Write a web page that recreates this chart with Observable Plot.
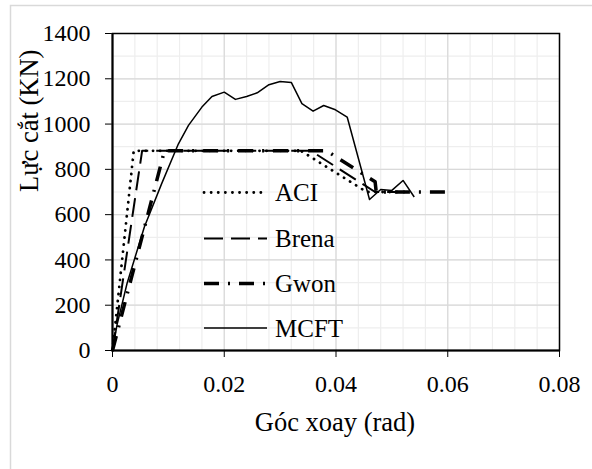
<!DOCTYPE html>
<html>
<head>
<meta charset="utf-8">
<script src="https://cdn.jsdelivr.net/npm/d3@7"></script>
<script src="https://cdn.jsdelivr.net/npm/@observablehq/plot@0.6"></script>
<style>
  html, body { margin: 0; padding: 0; background: white; }
  #chart { width: 592px; height: 469px; }
  #chart svg, #chart svg text { font-family: "Liberation Serif", "Times New Roman", serif !important; }
</style>
</head>
<body>
<div id="chart"></div>
<script>
// ---- data ----
const seriesNames = ["ACI", "Brena", "Gwon", "MCFT"];

const aciX = [0, 0.0038, 0.0337, 0.0455, 0.053];
const aciY = [0, 882, 882, 700, 700];

const brenaX = [0, 0.0053, 0.0355, 0.0470, 0.054];
const brenaY = [0, 882, 882, 700, 700];

const gwonX = [0, 0.0093, 0.0383, 0.0470, 0.0472, 0.0595];
const gwonY = [0, 882, 882, 745, 700, 700];

const mcftX = [0, 0.0008, 0.0026, 0.0047, 0.0057, 0.0088, 0.0118, 0.0136, 0.0160, 0.0178,
               0.0200, 0.0220, 0.0240, 0.0259, 0.0280, 0.0300, 0.0320, 0.0339, 0.0359, 0.0378,
               0.0399, 0.0420, 0.0460, 0.0480, 0.0500, 0.0520, 0.0540];
const mcftY = [0, 112, 296, 465, 545, 737, 913, 994, 1075, 1122,
               1141, 1109, 1122, 1138, 1174, 1188, 1184, 1090, 1057, 1082,
               1063, 1031, 667, 711, 707, 751, 678];

const xTicks = [0, 0.02, 0.04, 0.06, 0.08];
const xTickLabels = ["0", "0.02", "0.04", "0.06", "0.08"];
const yTicks = [0, 200, 400, 600, 800, 1000, 1200, 1400];
const yTickLabels = ["0", "200", "400", "600", "800", "1000", "1200", "1400"];
const xMinor = d3.range(0, 0.0801, 0.004);
const yMinor = d3.range(0, 1401, 100);

const xTitle = "Góc xoay (rad)";
const yTitle = "Lực cắt (KN)";

// ---- styles ----
const styles = {
  ACI:   {strokeWidth: 2.8, strokeDasharray: "0.1 7", strokeLinecap: "round"},
  Brena: {strokeWidth: 2,   strokeDasharray: "19 8",  strokeLinecap: "butt"},
  Gwon:  {strokeWidth: 3.5, strokeDasharray: "15 9 2 9", strokeLinecap: "butt"},
  MCFT:  {strokeWidth: 1.5, strokeDasharray: null, strokeLinecap: "butt"}
};

const zip = (xs, ys) => xs.map((x, i) => ({x, y: ys[i]}));
const series = {
  ACI: zip(aciX, aciY),
  Brena: zip(brenaX, brenaY),
  Gwon: zip(gwonX, gwonY),
  MCFT: zip(mcftX, mcftY)
};

const W = 592, H = 469;
const mL = 112, mR = 33, mT = 33, mB = 119;

const lineMarks = seriesNames.map(n => Plot.line(series[n], {
  x: "x", y: "y", stroke: "black",
  strokeWidth: styles[n].strokeWidth,
  strokeDasharray: styles[n].strokeDasharray,
  strokeLinecap: styles[n].strokeLinecap,
  strokeLinejoin: "round"
}));

const chart = Plot.plot({
  width: W, height: H,
  marginLeft: mL, marginRight: mR, marginTop: mT, marginBottom: mB,
  style: {fontSize: "24px", color: "black", background: "white", overflow: "visible"},
  x: {domain: [0, 0.08], ticks: xTicks, tickSize: 7, tickPadding: 17,
      tickFormat: d => xTickLabels[xTicks.indexOf(d)], label: null},
  y: {domain: [0, 1400], ticks: yTicks, tickSize: 7, tickPadding: 15,
      tickFormat: d => yTickLabels[yTicks.indexOf(d)], label: null},
  marks: [
    Plot.ruleX(xMinor, {stroke: "#eeeeee", strokeWidth: 1.2}),
    Plot.ruleY(yMinor, {stroke: "#eeeeee", strokeWidth: 1.2}),
    Plot.ruleX(xTicks, {stroke: "#d9d9d9", strokeWidth: 1.2}),
    Plot.ruleY(yTicks, {stroke: "#d9d9d9", strokeWidth: 1.2}),
    ...lineMarks,
    Plot.frame({stroke: "black", strokeWidth: 1.5}),
    Plot.ruleX([0], {stroke: "black", strokeWidth: 2}),
    Plot.ruleY([0], {stroke: "black", strokeWidth: 2}),
    Plot.text([xTitle], {frameAnchor: "bottom", dy: 80, dx: -1, fontSize: 26.5, text: d => d}),
    Plot.text([yTitle], {frameAnchor: "left", dx: -83, rotate: -90, fontSize: 26.5, text: d => d})
  ]
});

document.getElementById("chart").appendChild(chart);
const svg = d3.select(chart);

// ---- outer chart-area border and legend ----
svg.insert("rect", ":first-child")
  .attr("x", 10.5).attr("y", 5.5).attr("width", 640).attr("height", 520)
  .attr("fill", "none").attr("stroke", "#d9d9d9").attr("stroke-width", 1.5);

const legend = svg.append("g").attr("class", "legend").attr("text-anchor", "start");
const legX0 = 204, legX1 = 267, legTextX = 275;
const legY = [192.5, 238.5, 283.5, 328];
seriesNames.forEach((n, i) => {
  const s = styles[n];
  legend.append("line")
    .attr("x1", legX0).attr("x2", legX1).attr("y1", legY[i]).attr("y2", legY[i])
    .attr("stroke", "black").attr("stroke-width", s.strokeWidth)
    .attr("stroke-dasharray", s.strokeDasharray)
    .attr("stroke-linecap", s.strokeLinecap);
  legend.append("text")
    .attr("x", legTextX).attr("y", legY[i] + 8.5)
    .attr("text-anchor", "start")
    .attr("font-size", 25)
    .attr("fill", "black")
    .text(n);
});
</script>
</body>
</html>
